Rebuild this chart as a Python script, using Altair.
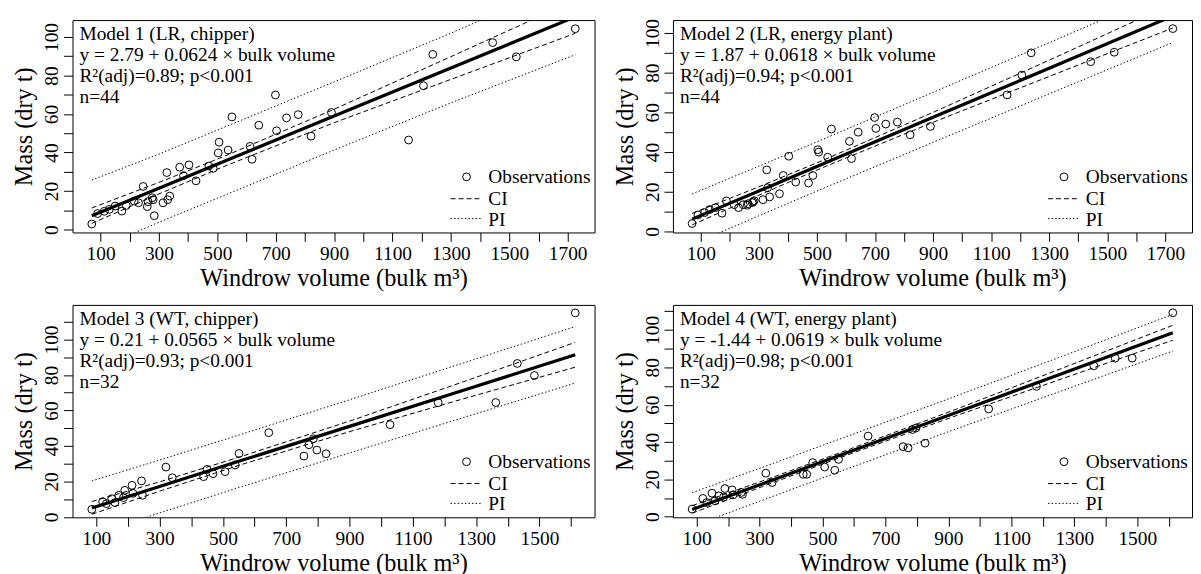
import altair as alt
import pandas as pd

FONT = "Liberation Serif"

# ---- observations ----
lr_volume = [70, 90, 113, 130, 150, 173, 188, 215, 230, 246, 260, 263, 277, 280, 284, 314,
             327, 330, 337, 371, 384, 403, 427, 471, 486, 503, 506, 537, 550, 612, 619, 642,
             699, 703, 737, 777, 821, 891, 1155, 1206, 1238, 1443, 1524, 1726]
lr_mass_chipper = [2.9, 8.3, 9.5, 10.5, 12.2, 9.6, 12.5, 14.8, 13.9, 22.4, 11.9, 14.5, 16.5, 15.5,
                   7.2, 13.9, 29.6, 15.5, 17.4, 32.4, 28.0, 33.6, 25.3, 33.0, 31.8, 39.8, 45.4, 41.3,
                   58.5, 43.2, 36.5, 54.2, 69.9, 51.3, 58.0, 59.7, 48.5, 60.8, 46.5, 74.7, 91.0, 97.1,
                   89.7, 104.3]
lr_mass_plant = [4.0, 8.3, 9.5, 11.0, 12.0, 9.2, 15.4, 13.5, 12.0, 13.5, 13.2, 14.0, 14.5, 15.0,
                 15.5, 16.0, 31.0, 22.0, 17.4, 19.0, 28.2, 37.9, 24.9, 24.4, 28.2, 41.2, 40.0, 37.4,
                 51.6, 45.4, 36.7, 50.0, 57.4, 51.9, 54.1, 55.1, 48.7, 52.9, 68.8, 78.8, 90.0, 85.5,
                 90.3, 102.2]
wt_volume = [86, 120, 132, 149, 159, 171, 186, 190, 213, 216, 243, 246, 320, 340, 439, 450,
             469, 507, 539, 551, 645, 756, 772, 786, 797, 826, 1028, 1180, 1362, 1430, 1484, 1613]
wt_mass_chipper = [4.3, 8.6, 7.5, 10.3, 8.1, 12.2, 10.9, 15.0, 17.8, 13.3, 20.3, 12.2, 28.1, 22.1,
                   22.7, 26.8, 24.4, 25.5, 29.3, 35.8, 47.5, 34.3, 40.7, 44.1, 37.7, 35.6, 52.0, 64.4,
                   64.5, 86.5, 79.7, 115.0]
wt_mass_plant = [4.1, 9.8, 7.6, 12.6, 8.5, 11.2, 10.5, 15.1, 14.4, 11.7, 13.0, 12.0, 23.3, 18.3,
                 22.7, 22.7, 29.0, 26.6, 24.9, 30.7, 43.2, 37.5, 36.9, 46.7, 47.5, 39.4, 57.7, 69.8,
                 80.8, 84.9, 84.9, 109.2]

# ---- fitted line, confidence and prediction bands (read at sample volumes) ----
lr_band_x = [70, 300, 520, 900, 1300, 1726]
m1_fit = [7.2, 21.5, 35.2, 59.0, 83.9, 110.5]
m1_ci_lo = [3.2, 18.5, 32.6, 55.5, 78.0, 101.9]
m1_ci_hi = [11.2, 24.5, 37.8, 62.5, 89.8, 119.1]
m1_pi_lo = [-11.3, 3.8, 17.5, 41.3, 65.8, 90.8]
m1_pi_hi = [25.7, 39.2, 52.9, 76.7, 102.0, 130.2]

m2_fit = [6.2, 20.4, 34.0, 57.5, 82.2, 108.6]
m2_ci_lo = [3.3, 18.3, 32.2, 55.0, 78.1, 102.5]
m2_ci_hi = [9.1, 22.5, 35.8, 60.0, 86.3, 114.7]
m2_pi_lo = [-6.5, 7.9, 21.6, 44.9, 69.3, 95.2]
m2_pi_hi = [18.9, 32.9, 46.4, 70.1, 95.1, 122.0]

wt_band_x = [86, 310, 560, 910, 1260, 1613]
m3_fit = [5.1, 17.7, 31.9, 51.6, 71.4, 91.4]
m3_ci_lo = [1.5, 15.1, 29.6, 48.6, 66.6, 84.4]
m3_ci_hi = [8.7, 20.3, 34.2, 54.6, 76.2, 98.4]
m3_pi_lo = [-10.1, 2.8, 17.1, 36.6, 56.0, 75.5]
m3_pi_hi = [20.3, 32.6, 46.7, 66.6, 86.8, 107.3]

m4_fit = [3.9, 17.7, 33.2, 54.9, 76.6, 98.5]
m4_ci_lo = [1.9, 16.2, 31.9, 53.2, 73.8, 94.5]
m4_ci_hi = [5.9, 19.2, 34.5, 56.6, 79.4, 102.5]
m4_pi_lo = [-5.1, 8.9, 24.5, 46.1, 67.4, 88.7]
m4_pi_hi = [12.9, 26.5, 41.9, 63.7, 85.8, 108.3]

# ---- texts ----
m1_text = ["Model 1 (LR, chipper)", "y = 2.79 + 0.0624 × bulk volume", "R²(adj)=0.89; p<0.001", "n=44"]
m2_text = ["Model 2 (LR, energy plant)", "y = 1.87 + 0.0618 × bulk volume", "R²(adj)=0.94; p<0.001", "n=44"]
m3_text = ["Model 3 (WT, chipper)", "y = 0.21 + 0.0565 × bulk volume", "R²(adj)=0.93; p<0.001", "n=32"]
m4_text = ["Model 4 (WT, energy plant)", "y = -1.44 + 0.0619 × bulk volume", "R²(adj)=0.98; p<0.001", "n=32"]
legend_labels = ["Observations", "CI", "PI"]

lr_xticks = list(range(100, 1800, 100))
wt_xticks = list(range(100, 1700, 100))
yticks_a = list(range(0, 110, 10))
yticks_b = list(range(0, 120, 10))

X_TITLE = "Windrow volume (bulk m³)"
Y_TITLE = "Mass (dry t)"
H = 214
FS = 19.5
TFS = 24.5


def make_panel(obs_x, obs_y, bx, fit, cil, cih, pil, pih, xdom, ydom, xvals, yvals, texts, W):
    obs = pd.DataFrame({"vol": obs_x, "mass": obs_y})
    band = pd.DataFrame({"vol": bx, "fit": fit, "cil": cil, "cih": cih, "pil": pil, "pih": pih})
    xs = alt.Scale(domain=xdom, nice=False, zero=False)
    ys = alt.Scale(domain=ydom, nice=False, zero=False)
    xax = alt.Axis(values=xvals, format="d", title=X_TITLE,
                   labelExpr="(datum.value - 100) % 200 == 0 ? datum.label : ''")
    yax = alt.Axis(values=yvals, format="d", title=Y_TITLE, labelAngle=270,
                   labelAlign="center", labelBaseline="bottom",
                   labelExpr="datum.value % 20 == 0 ? datum.label : ''")
    X = alt.X("vol:Q", scale=xs, axis=xax)
    base = alt.Chart(band)
    layers = []
    for col, dash in [("pil", [1.4, 2.2]), ("pih", [1.4, 2.2]), ("cil", [5, 3]), ("cih", [5, 3])]:
        layers.append(base.mark_line(clip=True, color="black", strokeWidth=1, strokeDash=dash)
                      .encode(x=X, y=alt.Y(f"{col}:Q", scale=ys, axis=yax)))
    layers.append(base.mark_line(clip=True, color="black", strokeWidth=3.2)
                  .encode(x=X, y=alt.Y("fit:Q", scale=ys, axis=yax)))
    layers.append(alt.Chart(obs).mark_point(shape="circle", filled=False, color="black", size=62,
                                            strokeWidth=1, opacity=1)
                  .encode(x=X, y=alt.Y("mass:Q", scale=ys, axis=yax)))
    # annotation block
    for i, t in enumerate(texts):
        layers.append(alt.Chart(pd.DataFrame({"t": [t]})).mark_text(
            align="left", baseline="alphabetic", font=FONT, fontSize=FS, color="black")
            .encode(text="t:N", x=alt.value(7), y=alt.value(20 + 21.2 * i)))
    # legend (inside, bottom right)
    layers.append(alt.Chart(pd.DataFrame({"k": [0]})).mark_point(
        shape="circle", filled=False, color="black", size=62, strokeWidth=1, opacity=1)
        .encode(x=alt.value(W - 129), y=alt.value(158)))
    layers.append(alt.Chart(pd.DataFrame({"k": [0]})).mark_rule(
        color="black", strokeWidth=1, strokeDash=[5, 3])
        .encode(x=alt.value(W - 145), x2=alt.value(W - 113), y=alt.value(180)))
    layers.append(alt.Chart(pd.DataFrame({"k": [0]})).mark_rule(
        color="black", strokeWidth=1, strokeDash=[1.4, 2.2])
        .encode(x=alt.value(W - 145), x2=alt.value(W - 113), y=alt.value(200)))
    for lab, yy in zip(legend_labels, [164, 186, 207]):
        layers.append(alt.Chart(pd.DataFrame({"t": [lab]})).mark_text(
            align="left", baseline="alphabetic", font=FONT, fontSize=FS, color="black")
            .encode(text="t:N", x=alt.value(W - 107), y=alt.value(yy)))
    return alt.layer(*layers).properties(width=W, height=H)


p1 = make_panel(lr_volume, lr_mass_chipper, lr_band_x, m1_fit, m1_ci_lo, m1_ci_hi, m1_pi_lo, m1_pi_hi,
                [4, 1792], [-1.5, 108.8], lr_xticks, yticks_a, m1_text, 526)
p2 = make_panel(lr_volume, lr_mass_plant, lr_band_x, m2_fit, m2_ci_lo, m2_ci_hi, m2_pi_lo, m2_pi_hi,
                [4, 1792], [-0.5, 106.5], lr_xticks, yticks_a, m2_text, 523)
p3 = make_panel(wt_volume, wt_mass_chipper, wt_band_x, m3_fit, m3_ci_lo, m3_ci_hi, m3_pi_lo, m3_pi_hi,
                [25, 1674], [-0.2, 119.5], wt_xticks, yticks_b, m3_text, 526)
p4 = make_panel(wt_volume, wt_mass_plant, wt_band_x, m4_fit, m4_ci_lo, m4_ci_hi, m4_pi_lo, m4_pi_hi,
                [25, 1674], [-0.3, 113.4], wt_xticks, yticks_b, m4_text, 523)

chart = alt.concat(p1, p2, p3, p4, columns=2, spacing={"row": 73, "column": 79}, bounds="flush").properties(
    padding={"left": 3, "top": 7, "right": 0, "bottom": 0}
).configure_view(stroke="black", strokeWidth=1).configure_axis(
    labelFont=FONT, titleFont=FONT, labelFontSize=FS, titleFontSize=TFS, labelColor="black",
    titleColor="black", tickColor="black", tickSize=9, tickWidth=1, domain=False, grid=False,
    titleFontWeight="normal"
).configure_axisX(labelPadding=3, titlePadding=4).configure_axisY(labelPadding=2, titlePadding=5)

chart.save("out.html", embed_options={"renderer": "svg", "actions": False})
